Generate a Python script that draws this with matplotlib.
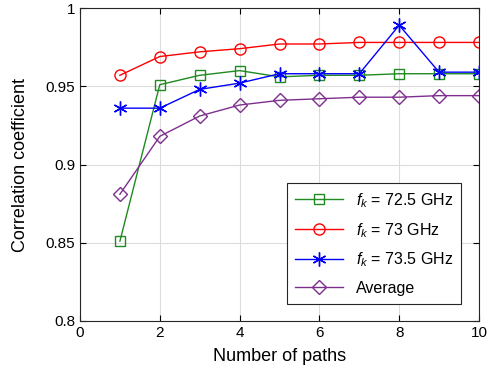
import matplotlib
matplotlib.use('Agg')
import matplotlib.pyplot as plt

plt.rcParams['font.family'] = ['Liberation Sans', 'DejaVu Sans']
plt.rcParams['mathtext.fontset'] = 'custom'
plt.rcParams['mathtext.it'] = 'Liberation Sans:italic'
plt.rcParams['mathtext.rm'] = 'Liberation Sans'

# Data
paths = [1, 2, 3, 4, 5, 6, 7, 8, 9, 10]
corr_725 = [0.851, 0.951, 0.957, 0.960, 0.956, 0.957, 0.957, 0.958, 0.958, 0.958]
corr_73 = [0.957, 0.969, 0.972, 0.974, 0.977, 0.977, 0.978, 0.978, 0.978, 0.978]
corr_735 = [0.936, 0.936, 0.948, 0.952, 0.958, 0.958, 0.958, 0.989, 0.959, 0.959]
corr_avg = [0.881, 0.918, 0.931, 0.938, 0.941, 0.942, 0.943, 0.943, 0.944, 0.944]

fig = plt.figure(figsize=(4.93, 3.77), dpi=100)
ax = fig.add_axes([80 / 493, 1 - 321 / 377, 399 / 493, 313 / 377])

ax.plot(paths, corr_725, color='#1f8a1f', marker='s', ms=7, mfc='none', lw=1,
        label=r'$f_k$ = 72.5 GHz')
ax.plot(paths, corr_73, color='#ff0000', marker='o', ms=8, mfc='none', lw=1,
        label=r'$f_k$ = 73 GHz')
ax.plot(paths, corr_735, color='#0000ff', marker=(6, 2, 0), ms=10, lw=1,
        label=r'$f_k$ = 73.5 GHz')
ax.plot(paths, corr_avg, color='#7e2f8e', marker='D', ms=7, mfc='none', lw=1,
        label='Average')

ax.set_xlim(0, 10)
ax.set_ylim(0.8, 1.0)
ax.set_xticks(range(0, 11, 2))
ax.set_yticks([0.8, 0.85, 0.9, 0.95, 1.0])
ax.set_yticklabels(['0.8', '0.85', '0.9', '0.95', '1'])
ax.grid(True, color='#dcdcdc', lw=0.8)
ax.set_axisbelow(True)
ax.tick_params(direction='in', top=True, right=True, labelsize=11, length=4)
for s in ax.spines.values():
    s.set_color('#262626')
    s.set_linewidth(0.8)

ax.set_xlabel('Number of paths', fontsize=13, labelpad=6)
ax.set_ylabel('Correlation coefficient', fontsize=13, labelpad=12)

leg = ax.legend(loc='lower right', bbox_to_anchor=(0.975, 0.03), fontsize=11.5,
                fancybox=False, framealpha=1, edgecolor='#262626',
                handlelength=3.0, borderpad=0.5, labelspacing=0.7)
leg.get_frame().set_linewidth(0.8)

fig.savefig('out.png', dpi=100)
